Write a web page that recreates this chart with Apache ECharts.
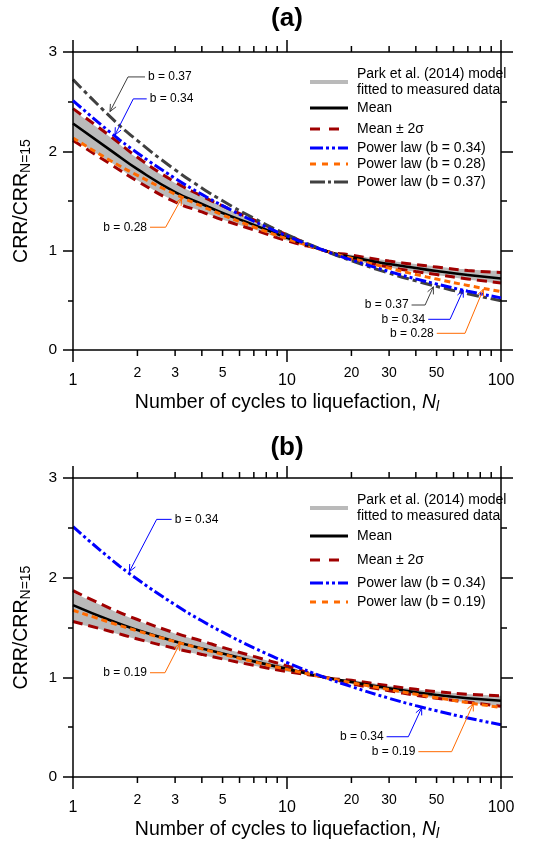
<!DOCTYPE html>
<html>
<head>
<meta charset="utf-8">
<script src="https://cdn.jsdelivr.net/npm/echarts@6.0.0/dist/echarts.min.js"></script>
<style>
html,body{margin:0;padding:0;background:#ffffff;}
#chart{width:548px;height:843px;}
</style>
</head>
<body>
<div id="chart"></div>
<script>
// ---------------- data ----------------
const cycles = [1, 1.5, 2, 3, 4, 5, 7, 10, 15, 20, 30, 40, 50, 70, 100];

// panel (a)
const aParkHigh  = [2.41, 2.14, 1.93, 1.68, 1.545, 1.445, 1.305, 1.158, 1.00, 0.96, 0.90, 0.865, 0.84, 0.81, 0.795];
const aParkLow   = [2.13, 1.89, 1.71, 1.50, 1.395, 1.315, 1.215, 1.102, 1.00, 0.912, 0.83, 0.785, 0.755, 0.71, 0.665];
const aMean      = [2.28, 2.01, 1.82, 1.59, 1.47, 1.38, 1.26, 1.13, 1.00, 0.935, 0.865, 0.825, 0.795, 0.755, 0.72];
const aMeanPlus  = [2.43, 2.15, 1.94, 1.69, 1.55, 1.45, 1.31, 1.16, 1.00, 0.955, 0.895, 0.86, 0.835, 0.80, 0.78];
const aMeanMinus = [2.11, 1.87, 1.70, 1.49, 1.39, 1.31, 1.21, 1.10, 1.00, 0.915, 0.835, 0.79, 0.76, 0.715, 0.675];
const aPow034    = [2.511, 2.188, 1.984, 1.728, 1.567, 1.453, 1.296, 1.148, 1.00, 0.907, 0.790, 0.716, 0.664, 0.592, 0.525];
const aPow028    = [2.135, 1.905, 1.758, 1.569, 1.448, 1.360, 1.238, 1.120, 1.00, 0.923, 0.824, 0.760, 0.714, 0.650, 0.588];
const aPow037    = [2.724, 2.344, 2.108, 1.814, 1.631, 1.502, 1.326, 1.162, 1.00, 0.899, 0.774, 0.696, 0.641, 0.566, 0.496];

// panel (b)
const bParkHigh  = [1.85, 1.68, 1.57, 1.44, 1.36, 1.297, 1.207, 1.113, 1.00, 0.972, 0.915, 0.88, 0.858, 0.833, 0.815];
const bParkLow   = [1.55, 1.455, 1.38, 1.285, 1.225, 1.18, 1.117, 1.056, 1.00, 0.932, 0.862, 0.818, 0.79, 0.748, 0.71];
const bMean      = [1.725, 1.57, 1.475, 1.36, 1.29, 1.24, 1.16, 1.085, 1.00, 0.953, 0.89, 0.85, 0.823, 0.79, 0.765];
const bMeanPlus  = [1.87, 1.69, 1.58, 1.445, 1.365, 1.30, 1.21, 1.115, 1.00, 0.97, 0.915, 0.88, 0.857, 0.83, 0.815];
const bMeanMinus = [1.56, 1.46, 1.385, 1.29, 1.23, 1.185, 1.12, 1.058, 1.00, 0.935, 0.865, 0.82, 0.79, 0.75, 0.71];
const bPow034    = [2.511, 2.188, 1.984, 1.728, 1.567, 1.453, 1.296, 1.148, 1.00, 0.907, 0.790, 0.716, 0.664, 0.592, 0.525];
const bPow019    = [1.673, 1.549, 1.466, 1.358, 1.286, 1.232, 1.156, 1.080, 1.00, 0.947, 0.877, 0.830, 0.796, 0.746, 0.697];

// axes
const xMin = 1, xMax = 100;
const yMin = 0, yMax = 3, yStep = 1;
const xMinorTicks  = [2, 3, 4, 5, 6, 7, 8, 9, 20, 30, 40, 50, 60, 70, 80, 90];
const xMinorLabels = [2, 3, 5, 20, 30, 50];

// legend texts
const nPark  = 'Park et al. (2014) model\nfitted to measured data';
const nMean  = 'Mean';
const nSigma = 'Mean \u00b1 2\u03c3';
const n034 = 'Power law (b = 0.34)';
const n028 = 'Power law (b = 0.28)';
const n037 = 'Power law (b = 0.37)';
const n019 = 'Power law (b = 0.19)';

// call-out annotations: text, then leader path in data space (last point = arrow tip)
const aCallouts = [
  {text: 'b = 0.37', key: '0.37', side: 'right', path: [[2.17, 2.749], [1.807, 2.749], [1.489, 2.40]]},
  {text: 'b = 0.34', key: '0.34', side: 'right', path: [[2.21, 2.528], [1.913, 2.528], [1.571, 2.165]]},
  {text: 'b = 0.28', key: '0.28', side: 'left',  path: [[2.29, 1.236], [2.71, 1.236], [3.22, 1.528]]},
  {text: 'b = 0.37', key: '0.37', side: 'left',  path: [[38.2, 0.453], [44.2, 0.453], [48.3, 0.637]]},
  {text: 'b = 0.34', key: '0.34', side: 'left',  path: [[45.7, 0.309], [57.8, 0.309], [66.6, 0.604]]},
  {text: 'b = 0.28', key: '0.28', side: 'left',  path: [[50.1, 0.168], [67.9, 0.168], [82.7, 0.612]]}
];
const bCallouts = [
  {text: 'b = 0.34', key: '0.34', side: 'right', path: [[2.89, 2.585], [2.46, 2.585], [1.833, 2.06]]},
  {text: 'b = 0.19', key: '0.19', side: 'left',  path: [[2.29, 1.046], [2.69, 1.046], [3.16, 1.34]]},
  {text: 'b = 0.34', key: '0.34', side: 'left',  path: [[29.2, 0.404], [36.9, 0.404], [42.6, 0.695]]},
  {text: 'b = 0.19', key: '0.19', side: 'left',  path: [[41.1, 0.254], [58.8, 0.254], [74.2, 0.735]]}
];

// ---------------- styles ----------------
const FONT = '"Liberation Sans", Arial, sans-serif';
const C_PARK = '#bababa', C_MEAN = '#000000', C_SIG = '#a00000';
const C_BLUE = '#0000ff', C_ORANGE = '#ff6a00', C_DARK = '#404040';
const calloutColor = {'0.37': C_DARK, '0.34': C_BLUE, '0.28': C_ORANGE, '0.19': C_ORANGE};
const styleOf = {
  park:  {color: C_PARK, width: 4, type: 'solid'},
  mean:  {color: C_MEAN, width: 2.6, type: 'solid'},
  sigma: {color: C_SIG, width: 3, type: [10, 6]},
  '0.34': {color: C_BLUE, width: 3, type: [11, 3, 3, 3, 3, 3]},
  '0.28': {color: C_ORANGE, width: 3, type: [6, 4]},
  '0.19': {color: C_ORANGE, width: 3, type: [6, 4]},
  '0.37': {color: C_DARK, width: 3, type: [12, 4, 4, 4]}
};
const legendDash = {
  park: null, mean: null, sigma: [10, 9], '0.34': [13, 3, 3, 3, 3, 3], '0.28': [6, 6], '0.19': [6, 6], '0.37': [15, 3, 3, 3]
};
const AX = {color: '#000', width: 1.5};

const pair = ys => cycles.map((x, i) => [x, ys[i]]);

function lineSeries(g, ys, ls, z) {
  return {type: 'line', xAxisIndex: g * 2, yAxisIndex: g * 2, data: pair(ys),
    symbol: 'none', smooth: true, silent: true, z: z, lineStyle: ls, itemStyle: {color: ls.color}};
}

function tickRenderer(params, api) {
  const v = api.value(0);
  const b = api.coord([v, yMin]);
  const t = api.coord([v, yMax]);
  const st = {stroke: '#000', lineWidth: 1.5};
  const ch = [
    {type: 'line', shape: {x1: b[0], y1: b[1], x2: b[0], y2: b[1] + 6}, style: st},
    {type: 'line', shape: {x1: t[0], y1: t[1], x2: t[0], y2: t[1] - 6}, style: st}
  ];
  if (xMinorLabels.indexOf(v) >= 0) {
    ch.push({type: 'text', x: b[0], y: b[1] + 23,
      style: {text: String(v), fontSize: 14, fontFamily: FONT, fill: '#000', align: 'center', verticalAlign: 'middle'}});
  }
  return {type: 'group', children: ch};
}

function calloutRenderer(list) {
  return function (params, api) {
    const c = list[params.dataIndex];
    const col = calloutColor[c.key];
    const pts = c.path.map(p => api.coord(p));
    const n = pts.length;
    const tip = pts[n - 1], prev = pts[n - 2];
    let dx = tip[0] - prev[0], dy = tip[1] - prev[1];
    const L = Math.hypot(dx, dy) || 1; dx /= L; dy /= L;
    const ah = 7, aw = 3.2;
    const bx = tip[0] - dx * ah, by = tip[1] - dy * ah;
    const l = [bx - dy * aw, by + dx * aw], r = [bx + dy * aw, by - dx * aw];
    const s = pts[0];
    return {type: 'group', children: [
      {type: 'polyline', shape: {points: pts}, style: {stroke: col, lineWidth: 1, fill: null}},
      {type: 'polyline', shape: {points: [l, tip, r]}, style: {stroke: col, lineWidth: 1, fill: null}},
      {type: 'text', x: s[0] + (c.side === 'right' ? 3 : -3), y: s[1],
        style: {text: c.text, fontSize: 12, fontFamily: FONT, fill: '#000',
          align: c.side === 'right' ? 'left' : 'right', verticalAlign: 'middle'}}
    ]};
  };
}

function panel(g, d) {
  const xi = g * 2, yi = g * 2;
  const s = [];
  // Park et al. band: grey fill under the upper edge, white fill under the lower edge
  s.push({type: 'line', xAxisIndex: xi, yAxisIndex: yi, data: pair(d.parkHigh), symbol: 'none', smooth: true,
    silent: true, z: 1, lineStyle: {width: 0, opacity: 0}, areaStyle: {color: C_PARK, opacity: 1}});
  s.push({type: 'line', xAxisIndex: xi, yAxisIndex: yi, data: pair(d.parkLow), symbol: 'none', smooth: true,
    silent: true, z: 1.5, lineStyle: {width: 0, opacity: 0}, areaStyle: {color: '#ffffff', opacity: 1}});
  s.push(lineSeries(g, d.plus, styleOf.sigma, 2));
  s.push(lineSeries(g, d.minus, styleOf.sigma, 2));
  s.push(lineSeries(g, d.mean, styleOf.mean, 3));
  d.pows.forEach((p, i) => s.push(lineSeries(g, p.ys, styleOf[p.key], 4 + i)));
  s.push({type: 'custom', xAxisIndex: xi, yAxisIndex: yi, clip: false, silent: true, z: 10,
    data: xMinorTicks.map(v => [v, yMin]), encode: {x: 0, y: 1}, renderItem: tickRenderer});
  s.push({type: 'custom', xAxisIndex: xi, yAxisIndex: yi, clip: false, silent: true, z: 10,
    data: d.callouts.map(c => [c.path[0][0], c.path[0][1]]), encode: {x: 0, y: 1},
    renderItem: calloutRenderer(d.callouts)});
  return s;
}

const series = [].concat(
  panel(0, {parkHigh: aParkHigh, parkLow: aParkLow, mean: aMean, plus: aMeanPlus, minus: aMeanMinus,
    pows: [{key: '0.28', ys: aPow028}, {key: '0.37', ys: aPow037}, {key: '0.34', ys: aPow034}],
    callouts: aCallouts}),
  panel(1, {parkHigh: bParkHigh, parkLow: bParkLow, mean: bMean, plus: bMeanPlus, minus: bMeanMinus,
    pows: [{key: '0.19', ys: bPow019}, {key: '0.34', ys: bPow034}],
    callouts: bCallouts})
);

// legend drawn as graphic items (sample line + label)
function legendGraphics(items) {
  const out = [];
  items.forEach(it => {
    const st = styleOf[it.key];
    out.push({type: 'line', shape: {x1: 310, y1: it.y, x2: 348, y2: it.y},
      style: {stroke: st.color, lineWidth: it.key === 'park' ? 4 : 3, lineDash: legendDash[it.key]}});
    out.push({type: 'text', x: 357, y: it.y,
      style: {text: it.text, fontSize: 14, fontFamily: FONT, fill: '#000', lineHeight: 16, align: 'left', verticalAlign: 'middle'}});
  });
  return out;
}

const nameStyleX = {fontSize: 19.5, fontFamily: FONT, color: '#000', lineHeight: 22,
  rich: {i: {fontSize: 19.5, fontStyle: 'italic', fontFamily: FONT, lineHeight: 22},
         s: {fontSize: 14, fontStyle: 'italic', fontFamily: FONT, lineHeight: 14, verticalAlign: 'bottom'}}};
const nameStyleY = {fontSize: 19.5, fontFamily: FONT, color: '#000', lineHeight: 22,
  rich: {m: {fontSize: 19.5, fontFamily: FONT, lineHeight: 22},
         s: {fontSize: 14, fontFamily: FONT, lineHeight: 14, verticalAlign: 'bottom'}}};

function xAxes(g) {
  return [
    {gridIndex: g, type: 'log', logBase: 10, min: xMin, max: xMax, position: 'bottom', z: 6,
      axisLine: {show: true, onZero: false, lineStyle: AX}, axisTick: {show: true, length: 12, lineStyle: AX},
      minorTick: {show: false}, splitLine: {show: false}, minorSplitLine: {show: false},
      axisLabel: {show: true, fontSize: 16, margin: 23, color: '#000', fontFamily: FONT},
      name: 'Number of cycles to liquefaction, {i|N}{s|l}', nameLocation: 'middle', nameGap: 42,
      nameTextStyle: nameStyleX},
    {gridIndex: g, type: 'log', logBase: 10, min: xMin, max: xMax, position: 'top', z: 6,
      axisLine: {show: true, onZero: false, lineStyle: AX}, axisTick: {show: true, length: 12, lineStyle: AX},
      minorTick: {show: false}, splitLine: {show: false}, axisLabel: {show: false}}
  ];
}
function yAxes(g) {
  return [
    {gridIndex: g, type: 'value', min: yMin, max: yMax, interval: yStep, position: 'left', z: 6,
      axisLine: {show: true, onZero: false, lineStyle: AX}, axisTick: {show: true, length: 10, lineStyle: AX},
      minorTick: {show: true, splitNumber: 2, length: 5, lineStyle: AX}, splitLine: {show: false},
      axisLabel: {show: true, fontSize: 15.5, margin: 16, color: '#000', fontFamily: FONT},
      name: '{m|CRR/CRR}{s|N=15}', nameLocation: 'middle', nameGap: 40, nameRotate: 90,
      nameTextStyle: nameStyleY},
    {gridIndex: g, type: 'value', min: yMin, max: yMax, interval: yStep, position: 'right', z: 6,
      axisLine: {show: true, onZero: false, lineStyle: AX}, axisTick: {show: true, length: 12, lineStyle: AX},
      minorTick: {show: true, splitNumber: 2, length: 6, lineStyle: AX}, splitLine: {show: false},
      axisLabel: {show: false}}
  ];
}

const option = {
  animation: false,
  backgroundColor: '#ffffff',
  grid: [
    {left: 73, top: 52, width: 428, height: 298, containLabel: false, outerBoundsMode: 'none'},
    {left: 73, top: 478, width: 428, height: 299, containLabel: false, outerBoundsMode: 'none'}
  ],
  xAxis: xAxes(0).concat(xAxes(1)),
  yAxis: yAxes(0).concat(yAxes(1)),
  graphic: [
    {type: 'text', x: 287, y: 19, style: {text: '(a)', fontSize: 26, fontWeight: 'bold', fontFamily: FONT, fill: '#000', align: 'center', verticalAlign: 'middle'}},
    {type: 'text', x: 287, y: 448, style: {text: '(b)', fontSize: 26, fontWeight: 'bold', fontFamily: FONT, fill: '#000', align: 'center', verticalAlign: 'middle'}}
  ].concat(legendGraphics([
    {key: 'park', text: nPark, y: 82}, {key: 'mean', text: nMean, y: 108}, {key: 'sigma', text: nSigma, y: 129},
    {key: '0.34', text: n034, y: 148}, {key: '0.28', text: n028, y: 164}, {key: '0.37', text: n037, y: 182},
    {key: 'park', text: nPark, y: 508}, {key: 'mean', text: nMean, y: 536}, {key: 'sigma', text: nSigma, y: 560},
    {key: '0.34', text: n034, y: 583}, {key: '0.19', text: n019, y: 602}
  ])),
  series: series
};

const chart = echarts.init(document.getElementById('chart'), null, {renderer: 'canvas'});
chart.setOption(option);
</script>
</body>
</html>
